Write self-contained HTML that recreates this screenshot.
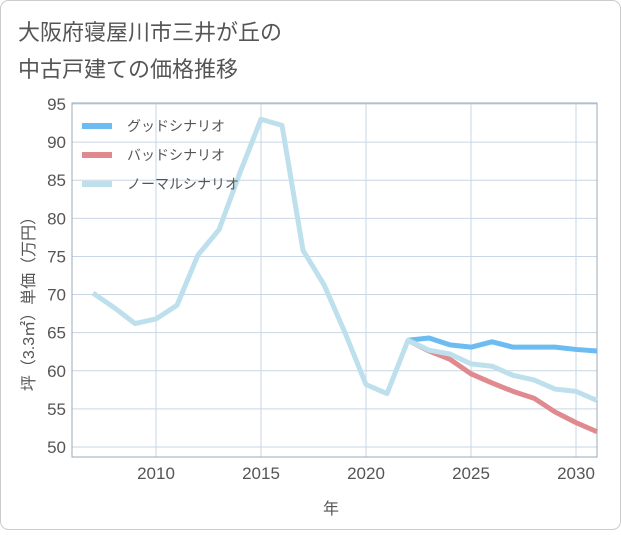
<!DOCTYPE html>
<html><head><meta charset="utf-8"><style>
body{margin:0;background:#fff;}
#wrap{position:relative;width:621px;height:530px;}
svg text{font-family:"Liberation Sans","Noto Sans CJK JP",sans-serif;}
</style></head><body>
<div id="wrap">
<svg id="c" width="621" height="530">
<rect x="0.5" y="0.5" width="620" height="529" rx="8" fill="#fff" stroke="#ccc"/>
<text x="18" y="40" font-size="22" fill="#555">大阪府寝屋川市三井が丘の</text>
<text x="18" y="77" font-size="22" fill="#555">中古戸建ての価格推移</text>
<text x="331" y="514" font-size="16" fill="#555" text-anchor="middle">年</text>
<text transform="translate(34,300) rotate(-90)" font-size="16" fill="#555" text-anchor="middle">坪（3.3㎡）単価（万円）</text>
<g id="grid"></g><g id="lines"></g><g id="legend"></g>
</svg></div>
<script>
const years=[2007,2008,2009,2010,2011,2012,2013,2014,2015,2016,2017,2018,2019,2020,2021,2022,2023,2024,2025,2026,2027,2028,2029,2030,2031];
const normal=[70.2,68.3,66.2,66.8,68.6,75.2,78.5,86,93,92.2,75.8,71.3,65,58.2,57,64,62.7,62.2,60.9,60.6,59.4,58.8,57.6,57.3,56.1];
const goodYears=[2022,2023,2024,2025,2026,2027,2028,2029,2030,2031];
const good=[64,64.3,63.4,63.1,63.8,63.1,63.1,63.1,62.8,62.6];
const bad=[64,62.6,61.5,59.6,58.4,57.3,56.4,54.6,53.2,52.0];
const yTicks=[50,55,60,65,70,75,80,85,90,95];
const xTicks=[2010,2015,2020,2025,2030];
const X0=72,X1=597,Y0=103,Y1=457;
const x=v=>156+(v-2010)*21;
const y=v=>447-(v-50)*(343/45);
const NS='http://www.w3.org/2000/svg';
function mk(t,a,p){const e=document.createElementNS(NS,t);for(const k in a)e.setAttribute(k,a[k]);p.appendChild(e);return e;}
const g=document.getElementById('grid');
yTicks.forEach(v=>{
 const l=mk('line',{x1:X0,x2:X1,y1:y(v),y2:y(v),stroke:'#c9d6e3','stroke-width':1},g);
 
 
 const t=mk('text',{x:X0-6,y:y(v)+6,'font-size':17,fill:'#555','text-anchor':'end'},g);t.textContent=v;
 
 
});
xTicks.forEach(v=>{
 const l=mk('line',{x1:x(v),x2:x(v),y1:Y0,y2:Y1,stroke:'#c9d6e3','stroke-width':1},g);
 
 
 const t=mk('text',{x:x(v),y:Y1+22,'font-size':17,fill:'#555','text-anchor':'middle'},g);t.textContent=v;
 
 
});
const ax=mk('path',{d:`M${X0},${Y0}V${Y1}H${X1}V${Y0}Z`,fill:'none',stroke:'#9aa8b8','stroke-width':1},g);


const L=document.getElementById('lines');
function line(xs,vs,col,name){
 const p=mk('polyline',{points:xs.map((yr,i)=>x(yr)+','+y(vs[i])).join(' '),fill:'none',stroke:col,'stroke-width':5,'stroke-linejoin':'round'},L);
 
 
}
line(goodYears,good,'#6cbcf2','good-scenario-line');
line(goodYears,bad,'#e08a90','bad-scenario-line');
line(years,normal,'#bde0ec','normal-scenario-line');
const lg=document.getElementById('legend');
[['グッドシナリオ','#6cbcf2'],['バッドシナリオ','#e08a90'],['ノーマルシナリオ','#bde0ec']].forEach((d,i)=>{
 const yy=126+i*29;
 const r=mk('rect',{x:82,y:yy-3,width:30,height:6,fill:d[1]},lg);
 
 
 const t=mk('text',{x:127,y:yy+5,'font-size':14,fill:'#555'},lg);t.textContent=d[0];
 
 
});
</script>
</body></html>
